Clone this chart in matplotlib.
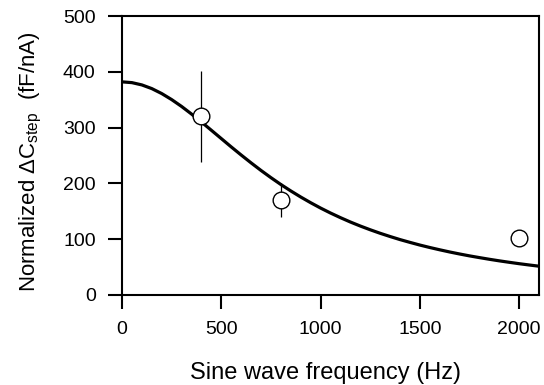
import matplotlib
matplotlib.use("Agg")
import matplotlib.pyplot as plt

plt.rcParams['font.family'] = ['Liberation Sans', 'DejaVu Sans']
plt.rcParams['mathtext.fontset'] = 'custom'
plt.rcParams['mathtext.rm'] = 'Liberation Sans'
plt.rcParams['mathtext.it'] = 'Liberation Sans:italic'

# measured points (Hz, fF/nA) with error bars
freq = [400, 800, 2000]
dc_step = [320, 170, 103]
dc_err = [82, 31, 0]

# fitted curve, every 50 Hz
fit_freq = list(range(0, 2101, 50))
fit_vals = [382, 380.6, 376.5, 369.9, 361.0, 350.2, 337.9, 324.3, 310.0, 295.2,
            280.3, 265.4, 250.9, 236.8, 223.2, 210.3, 198.0, 186.5, 175.6, 165.4,
            155.8, 146.9, 138.6, 130.8, 123.6, 116.9, 110.6, 104.8, 99.3, 94.3,
            89.5, 85.1, 81.0, 77.1, 73.5, 70.1, 67.0, 64.0, 61.2, 58.6,
            56.1, 53.8, 51.6]

xticks = [0, 500, 1000, 1500, 2000]
yticks = [0, 100, 200, 300, 400, 500]

fig = plt.figure(figsize=(5.44, 3.85), dpi=100)
ax = fig.add_axes([0.2243, 0.2338, 0.7665, 0.7246])

ax.plot(fit_freq, fit_vals, color="black", lw=2.3, zorder=2)
ax.errorbar(freq, dc_step, yerr=dc_err, fmt="none", ecolor="black", elinewidth=0.9, zorder=3)
ax.plot(freq, dc_step, "o", ms=12, mfc="white", mec="black", mew=1.0, zorder=4)

ax.set_xlim(0, 2100)
ax.set_ylim(0, 500)
ax.set_xticks(xticks)
ax.set_yticks(yticks)
ax.tick_params(direction="out", length=10, width=1.5, labelsize=14, pad=9)
for s in ax.spines.values():
    s.set_linewidth(1.5)

fig.text(31 / 544, 1 - 162 / 385, r"Normalized $\Delta$C$_{\rm step}$  (fF/nA)",
         rotation=90, ha="center", va="center", fontsize=16)
fig.text(325 / 544, 1 - 373 / 385, "Sine wave frequency (Hz)",
         ha="center", va="center", fontsize=17)

fig.savefig("out.png", dpi=100)
